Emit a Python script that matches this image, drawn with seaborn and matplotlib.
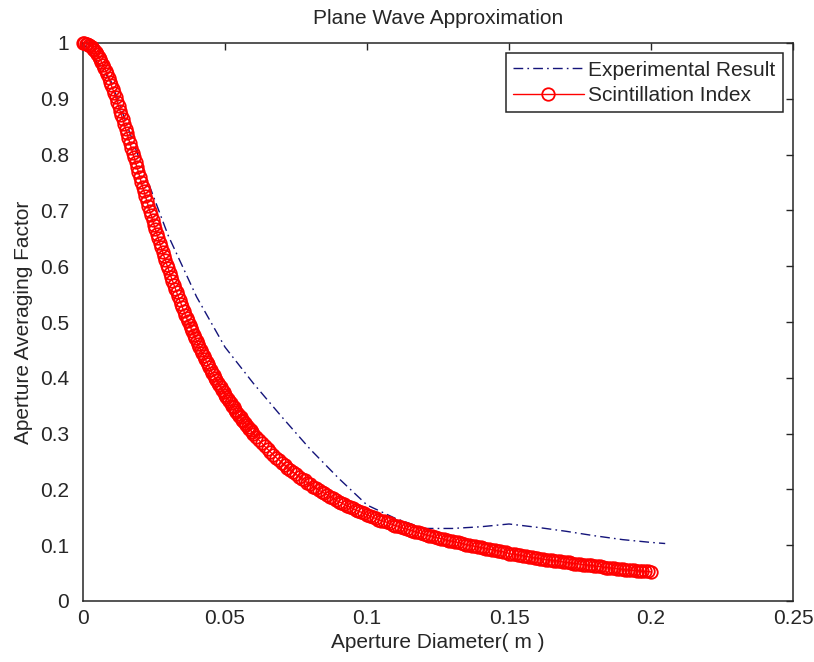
import numpy as np
import pandas as pd
import matplotlib
matplotlib.use("Agg")
import matplotlib.pyplot as plt
import seaborn as sns

# Scintillation index curve: aperture diameter (m) and averaging factor
# 0 .. 0.06 m every 0.5 mm, then 0.061 .. 0.2 m every 1 mm
scint_d = ([round(0.0005 * i, 4) for i in range(121)]
           + [round(0.001 * i, 3) for i in range(61, 201)])
scint_a = [
    1.000, 1.000, 0.999, 0.998, 0.997, 0.995, 0.993, 0.990, 0.987, 0.983,
    0.980, 0.975, 0.971, 0.966, 0.961, 0.956, 0.950, 0.944, 0.938, 0.931,
    0.924, 0.917, 0.910, 0.903, 0.895, 0.887, 0.879, 0.871, 0.863, 0.855,
    0.846, 0.838, 0.829, 0.821, 0.812, 0.803, 0.795, 0.786, 0.777, 0.769,
    0.760, 0.751, 0.742, 0.734, 0.725, 0.716, 0.708, 0.699, 0.691, 0.683,
    0.674, 0.666, 0.658, 0.650, 0.642, 0.634, 0.626, 0.618, 0.611, 0.603,
    0.596, 0.588, 0.581, 0.574, 0.567, 0.560, 0.553, 0.546, 0.539, 0.533,
    0.526, 0.520, 0.513, 0.507, 0.501, 0.495, 0.489, 0.483, 0.477, 0.471,
    0.466, 0.460, 0.455, 0.449, 0.444, 0.439, 0.434, 0.429, 0.424, 0.419,
    0.414, 0.409, 0.405, 0.400, 0.396, 0.391, 0.387, 0.383, 0.378, 0.374,
    0.370, 0.366, 0.362, 0.358, 0.354, 0.350, 0.347, 0.343, 0.339, 0.336,
    0.332, 0.329, 0.325, 0.322, 0.319, 0.315, 0.312, 0.309, 0.306, 0.303,
    0.300,
    0.294, 0.288, 0.283, 0.277, 0.272, 0.267, 0.262, 0.257, 0.253,
    0.248, 0.244, 0.239, 0.235, 0.231, 0.227, 0.223, 0.219, 0.216, 0.212,
    0.209, 0.205, 0.202, 0.199, 0.196, 0.193, 0.190, 0.187, 0.184, 0.181,
    0.178, 0.176, 0.173, 0.171, 0.168, 0.166, 0.163, 0.161, 0.159, 0.157,
    0.155, 0.152, 0.150, 0.148, 0.146, 0.144, 0.143, 0.141, 0.139, 0.137,
    0.135, 0.134, 0.132, 0.130, 0.129, 0.127, 0.126, 0.124, 0.123, 0.121,
    0.120, 0.118, 0.117, 0.116, 0.114, 0.113, 0.112, 0.111, 0.109, 0.108,
    0.107, 0.106, 0.105, 0.104, 0.102, 0.101, 0.100, 0.099, 0.098, 0.097,
    0.096, 0.095, 0.094, 0.093, 0.092, 0.091, 0.090, 0.089, 0.088, 0.087,
    0.085, 0.084, 0.084, 0.083, 0.082, 0.081, 0.080, 0.079, 0.078, 0.077,
    0.077, 0.076, 0.075, 0.074, 0.074, 0.073, 0.072, 0.072, 0.071, 0.070,
    0.069, 0.069, 0.068, 0.067, 0.067, 0.066, 0.065, 0.065, 0.064, 0.064,
    0.063, 0.062, 0.062, 0.061, 0.060, 0.060, 0.059, 0.059, 0.058, 0.057,
    0.057, 0.056, 0.056, 0.055, 0.055, 0.054, 0.054, 0.053, 0.053, 0.053,
    0.052,
]

# Experimental result
exp_d = [0.0, 0.01, 0.02, 0.03, 0.04, 0.05, 0.06, 0.07, 0.08, 0.09, 0.10,
         0.11, 0.12, 0.13, 0.14, 0.15, 0.16, 0.17, 0.18, 0.19, 0.20, 0.205]
exp_a = [1.0, 0.93, 0.79, 0.655, 0.545, 0.455, 0.39, 0.33, 0.272, 0.22, 0.172,
         0.148, 0.13, 0.13, 0.133, 0.138, 0.132, 0.125, 0.117, 0.11, 0.105, 0.103]

x_ticks = [0, 0.05, 0.1, 0.15, 0.2, 0.25]
x_tick_labels = ["0", "0.05", "0.1", "0.15", "0.2", "0.25"]
y_ticks = [0, 0.1, 0.2, 0.3, 0.4, 0.5, 0.6, 0.7, 0.8, 0.9, 1.0]
y_tick_labels = ["0", "0.1", "0.2", "0.3", "0.4", "0.5", "0.6", "0.7", "0.8", "0.9", "1"]

sns.set_theme(style="white")
plt.rcParams["font.family"] = ["Liberation Sans", "DejaVu Sans"]

FS = 15
TXT = "#262626"
W, H = 814, 662
fig = plt.figure(figsize=(W / 100, H / 100), dpi=100)
fig.patch.set_facecolor("white")
left, right, top, bottom = 83, 793, 43, 601
ax = fig.add_axes([left / W, 1 - bottom / H, (right - left) / W, (bottom - top) / H])
ax.set_facecolor("white")

exp_df = pd.DataFrame({"d": exp_d, "a": exp_a})
sci_df = pd.DataFrame({"d": scint_d, "a": scint_a})

sns.lineplot(data=exp_df, x="d", y="a", ax=ax, color="#14147a", lw=1.0,
             linestyle=(0, (7, 3, 1.2, 3)), label="Experimental Result", sort=False)
sns.lineplot(data=sci_df, x="d", y="a", ax=ax, color="#ff0000", lw=1.0,
             marker="o", markersize=9, markerfacecolor="none",
             markeredgecolor="#ff0000", markeredgewidth=1.3,
             label="Scintillation Index", sort=False, clip_on=False, zorder=3)

ax.set_xlim(0, 0.25)
ax.set_ylim(0, 1)
ax.set_xticks(x_ticks)
ax.set_xticklabels(x_tick_labels)
ax.set_yticks(y_ticks)
ax.set_yticklabels(y_tick_labels)
ax.tick_params(axis="both", which="both", direction="in", length=5, width=1.0,
               colors=TXT, labelsize=FS, top=True, right=True,
               labeltop=False, labelright=False)
ax.tick_params(axis="x", pad=6)
ax.tick_params(axis="y", pad=10)
for sp in ax.spines.values():
    sp.set_visible(True)
    sp.set_color(TXT)
    sp.set_linewidth(1.1)

ax.set_title("Plane Wave Approximation", fontsize=FS, color=TXT, pad=14)
ax.set_xlabel("Aperture Diameter( m )", fontsize=FS, color=TXT, labelpad=3)
ax.set_ylabel("Aperture Averaging Factor", fontsize=FS, color=TXT, labelpad=5)

leg = ax.legend(loc="upper right", fontsize=FS, frameon=True, fancybox=False,
                framealpha=1, edgecolor=TXT, borderaxespad=0.5,
                handlelength=3.4, handletextpad=0.2, borderpad=0.35,
                labelspacing=0.3)
leg.get_frame().set_linewidth(1.1)

fig.savefig("out.png", dpi=100, facecolor="white")
